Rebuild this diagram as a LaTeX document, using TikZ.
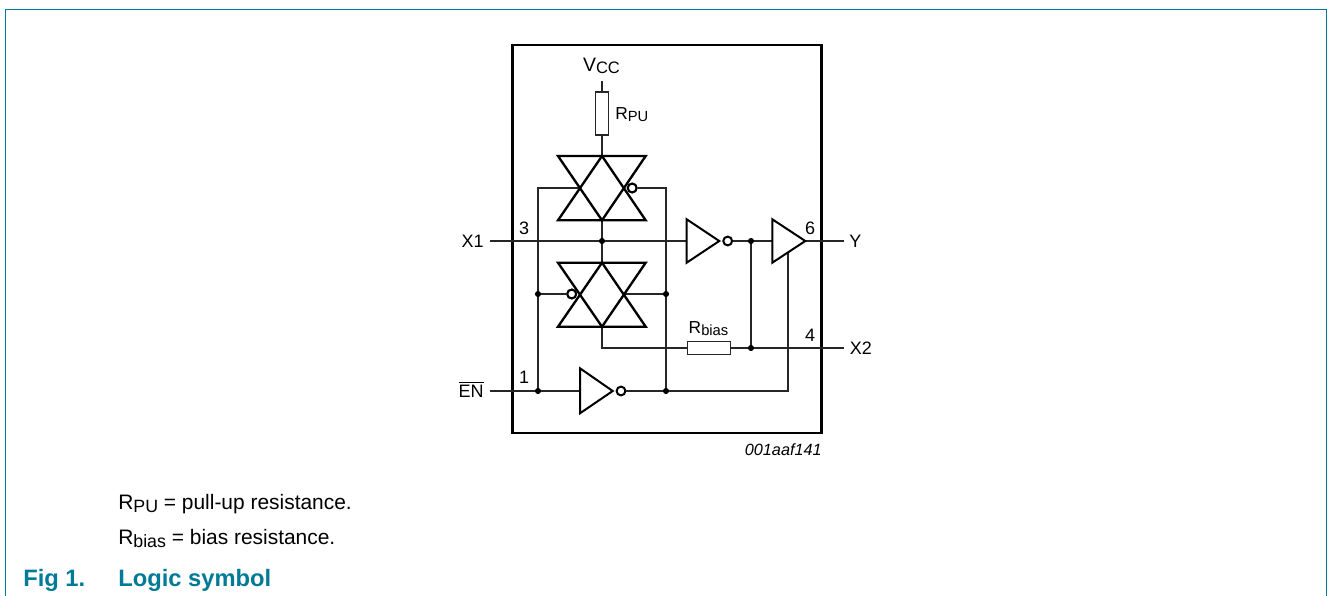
\documentclass[tikz,border=0pt]{standalone}
\usepackage{fontspec}
\setmainfont{Liberation Sans}
\definecolor{nxp}{HTML}{007A96}
\newcommand{\lowtxt}[1]{\raisebox{-0.28ex}{\scalebox{0.85}{#1}}}
\tikzset{
  wire/.style={line width=1pt,draw=black!85},
  chipbox/.style={line width=2.2pt,draw=black},
  gate/.style={line width=1.5pt,draw=black,line join=miter},
  tgate/.style={line width=1.75pt,draw=black,line join=miter},
  res/.style={draw=black!85,line width=1pt,fill=white,rectangle,inner sep=0pt,outer sep=0pt},
  bub/.style={draw=black,line width=1.5pt,circle,inner sep=0pt,minimum size=6.6pt,fill=white},
  jdot/.style={fill=black,circle,inner sep=0pt,minimum size=4.6pt},
  lbl/.style={inner sep=0pt,anchor=base,font=\fontsize{13.5}{15}\selectfont},
  sml/.style={inner sep=0pt,anchor=base,font=\fontsize{13}{15}\selectfont},
  foot/.style={inner sep=0pt,anchor=base west,font=\fontsize{15.7}{18}\selectfont},
  figcap/.style={inner sep=0pt,anchor=base west,text=nxp,font=\fontsize{17.8}{20}\selectfont\bfseries}
}
\begin{document}
\begin{tikzpicture}[x=0.75pt,y=-0.75pt]
\useasboundingbox (0,0) rectangle (1328,596);
% page frame
\draw[nxp,line width=1.1pt] (5.5,596) -- (5.5,9.5) -- (1326.5,9.5) -- (1326.5,596);
% chip outline
\node[chipbox,rectangle,minimum width=232pt,minimum height=291pt,inner sep=0pt,outer sep=0pt,anchor=north west] (chip) at (512.3,45) {};

% named points
\coordinate (x1in) at (490,241);
\coordinate (x1j) at (602,241);
\coordinate (yout) at (843.5,241);
\coordinate (enin) at (490,391);
\coordinate (x2out) at (843.5,348);
\coordinate (vcc) at (602,81);
\coordinate (ctlL) at (538,391);
\coordinate (ctlR) at (666,391);
\coordinate (ctlLm) at (538,294);
\coordinate (ctlRm) at (666,294);
\coordinate (ctlLt) at (538,188);
\coordinate (ctlRt) at (666,188);
\coordinate (nodeA) at (751,241);
\coordinate (nodeB) at (751,348);
\coordinate (tg1t) at (602,156);
\coordinate (tg1b) at (602,220.3);
\coordinate (tg2t) at (602,262.7);
\coordinate (tg2b) at (602,326.7);
\coordinate (tg1l) at (580,188);
\coordinate (tg2r) at (624,294);
\coordinate (bend) at (602,348);
\coordinate (inv1in) at (686.7,241);
\coordinate (buf1in) at (772.3,241);
\coordinate (buf1tip) at (805.3,241);
\coordinate (buf1en) at (788,252);
\coordinate (encorner) at (788,391);
\coordinate (inv2in) at (580,391);

% resistors
\node[res,minimum width=9.4pt,minimum height=32.2pt] (rpu) at (602,113.5) {};
\node[res,minimum width=32.2pt,minimum height=10pt] (rbias) at (708.8,348) {};
% bubbles
\node[bub] (b1) at (632.2,188) {};
\node[bub] (b2) at (571.7,294) {};
\node[bub] (b3) at (727.7,241) {};
\node[bub] (b4) at (621,391) {};

% wires
\draw[wire] (vcc) -- (rpu.north);
\draw[wire] (rpu.south) -- (tg1t);
\draw[wire] (tg1b) -- (tg2t);
\draw[wire] (x1in) -- (inv1in);
\draw[wire] (b3.east) -- (buf1in);
\draw[wire] (buf1tip) -- (yout);
\draw[wire] (enin) -- (inv2in);
\draw[wire] (b4.east) -- (encorner) -- (buf1en);
\draw[wire] (ctlL) -- (ctlLt) -- (tg1l);
\draw[wire] (b1.east) -- (ctlRt) -- (ctlR);
\draw[wire] (ctlLm) -- (b2.west);
\draw[wire] (tg2r) -- (ctlRm);
\draw[wire] (tg2b) -- (bend) -- (rbias.west);
\draw[wire] (rbias.east) -- (x2out);
\draw[wire] (nodeA) -- (nodeB);

% transmission gates
\draw[tgate] (558,156) -- (645.7,156) -- (602,220.3) -- cycle;
\draw[tgate] (558,220.3) -- (645.7,220.3) -- (602,156) -- cycle;
\draw[tgate] (558,262.7) -- (645.7,262.7) -- (602,326.7) -- cycle;
\draw[tgate] (558,326.7) -- (645.7,326.7) -- (602,262.7) -- cycle;
% inverters and buffer
\draw[gate] (686.7,219.3) -- (719.3,241) -- (686.7,262.7) -- cycle;
\draw[gate] (772.3,219.3) -- (805.3,241) -- (772.3,262.7) -- cycle;
\draw[gate] (580,368.3) -- (612.7,391) -- (580,413.3) -- cycle;
% bubbles above the gates
\node[bub] at (b1) {};
\node[bub] at (b2) {};

% junction dots
\node[jdot] (d1) at (x1j) {};
\node[jdot] (d2) at (nodeA) {};
\node[jdot] (d3) at (nodeB) {};
\node[jdot] (d4) at (ctlLm) {};
\node[jdot] (d5) at (ctlRm) {};
\node[jdot] (d6) at (ctlL) {};
\node[jdot] (d7) at (ctlR) {};

% labels
\node[lbl,anchor=base,font=\fontsize{14.6}{16}\selectfont] (tvcc) at (601.5,71) {V\lowtxt{CC}};
\node[sml,anchor=base west] (trpu) at (615,119) {R\lowtxt{PU}};
\node[sml,anchor=base] (trb) at (708.5,333) {R\lowtxt{bias}};
\node[lbl,anchor=base east] (tx1) at (484,247) {X1};
\node[lbl,anchor=base east] (ten) at (484,397) {$\overline{\mbox{EN}}$};
\node[lbl] (t3) at (524,234.5) {3};
\node[lbl] (t1) at (524,383.5) {1};
\node[lbl] (t6) at (810,234.5) {6};
\node[lbl] (t4) at (810,341.5) {4};
\node[lbl,anchor=base west] (ty) at (849,247) {Y};
\node[lbl,anchor=base west] (tx2) at (849.5,354) {X2};
\node[inner sep=0pt,anchor=base east,font=\fontsize{12.2}{14}\selectfont\itshape] (tid) at (822,455) {001aaf141};
\node[foot] (f1) at (118,509) {R\lowtxt{PU} = pull-up resistance.};
\node[foot] (f2) at (118,544) {R\lowtxt{bias} = bias resistance.};
\node[figcap] (c1) at (23,586) {Fig 1.};
\node[figcap] (c2) at (118,586) {Logic symbol};
\end{tikzpicture}
\end{document}
